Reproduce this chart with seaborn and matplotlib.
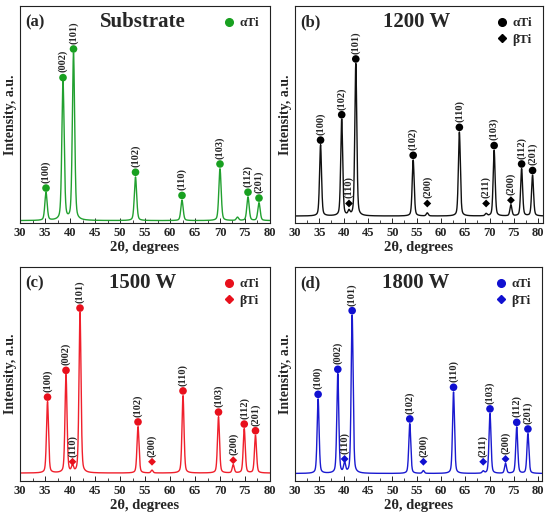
import numpy as np
import pandas as pd
import matplotlib
matplotlib.use("Agg")
import matplotlib.pyplot as plt
import seaborn as sns
from matplotlib.lines import Line2D
from matplotlib.ticker import MultipleLocator

# ---------------- data ----------------
hkl_alpha = ["(100)", "(002)", "(101)", "(102)", "(110)", "(103)", "(112)", "(201)"]
hkl_alpha_b = ["(100)", "(102)", "(101)", "(102)", "(110)", "(103)", "(112)", "(201)"]

# (a) Substrate
a_alpha_pos = [35.2, 38.6, 40.7, 53.1, 62.4, 70.0, 75.6, 77.8]
a_alpha_int = [13.9, 64.8, 78.0, 21.2, 10.5, 25.0, 12.0, 9.3]
a_minor_pos = [73.5]
a_minor_int = [2.6]
a_base = 1.1

# (b) 1200 W
b_alpha_pos = [35.25, 39.6, 42.5, 54.3, 63.8, 70.95, 76.6, 78.85]
b_alpha_int = [36.0, 47.7, 73.4, 29.0, 41.9, 33.5, 25.0, 22.0]
b_beta_hkl = ["(110)", "(200)", "(211)", "(200)"]
b_beta_pos = [41.1, 57.2, 69.3, 74.4]
b_beta_int = [5.2, 4.6, 4.2, 8.3]
b_base = 3.2

# (c) 1500 W
c_alpha_pos = [35.5, 39.2, 42.0, 53.6, 62.6, 69.7, 74.85, 77.1]
c_alpha_int = [37.0, 49.5, 78.6, 25.4, 39.9, 30.0, 24.4, 21.3]
c_beta_hkl = ["(110)", "(200)", "(200)"]
c_beta_pos = [40.5, 56.4, 72.65]
c_beta_int = [6.7, 5.0, 7.5]
c_base = 3.7

# (d) 1800 W
d_alpha_pos = [34.75, 38.8, 41.75, 53.6, 62.6, 70.1, 75.6, 77.9]
d_alpha_int = [38.3, 50.0, 77.4, 26.8, 41.6, 31.5, 25.2, 22.1]
d_beta_hkl = ["(110)", "(200)", "(211)", "(200)"]
d_beta_pos = [40.2, 56.4, 68.7, 73.3]
d_beta_int = [8.1, 4.8, 4.5, 8.1]
d_base = 3.5

panel_letters = ["(a)", "(b)", "(c)", "(d)"]
panel_titles = ["Substrate", "1200 W", "1500 W", "1800 W"]
panel_colors = ["#22a030", "#111111", "#f0202c", "#1a1ad0"]
marker_colors = ["#18a020", "#000000", "#e8101c", "#1010d0"]

# ---------------- style ----------------
sns.set_theme(style="ticks")
plt.rcParams["font.family"] = ["Liberation Serif", "DejaVu Serif"]
plt.rcParams["font.weight"] = "bold"
plt.rcParams["axes.labelweight"] = "bold"

fig = plt.figure(figsize=(5.5, 5.23), dpi=100)
rects = [
    [0.0364, 0.5736, 0.4545, 0.4149],
    [0.5364, 0.5736, 0.4509, 0.4149],
    [0.0364, 0.0803, 0.4545, 0.4092],
    [0.5364, 0.0803, 0.4491, 0.4092],
]
xmaxes = [80, 81, 80, 80.8]

panels = [
    (a_alpha_pos, a_alpha_int, hkl_alpha, a_minor_pos, a_minor_int, [], a_base, 0.55, False),
    (b_alpha_pos, b_alpha_int, hkl_alpha_b, b_beta_pos, b_beta_int, b_beta_hkl, b_base, 0.48, True),
    (c_alpha_pos, c_alpha_int, hkl_alpha, c_beta_pos, c_beta_int, c_beta_hkl, c_base, 0.48, True),
    (d_alpha_pos, d_alpha_int, hkl_alpha, d_beta_pos, d_beta_int, d_beta_hkl, d_base, 0.48, True),
]


def profile(x, pos, top, base, fwhm):
    y = np.full_like(x, base)
    hw = fwhm / 2.0
    for p, t in zip(pos, top):
        amp = t - base
        lor = 1.0 / (1.0 + ((x - p) / hw) ** 2)
        gau = np.exp(-np.log(2) * ((x - p) / hw) ** 2)
        y += amp * (0.35 * lor + 0.65 * gau)
    return y


for i, (apos, aint, ahkl, bpos, bint, bhkl, base, fwhm, has_beta) in enumerate(panels):
    ax = fig.add_axes(rects[i])
    x = np.linspace(30, 81.5, 3000)
    y = profile(x, list(apos) + list(bpos), list(aint) + list(bint), base, fwhm)
    df = pd.DataFrame({"x": x, "y": y})
    sns.lineplot(data=df, x="x", y="y", ax=ax, color=panel_colors[i], lw=1.0)

    off = 2.2
    adf = pd.DataFrame({"x": apos, "y": np.array(aint) + off})
    sns.scatterplot(data=adf, x="x", y="y", ax=ax, marker="o", s=30,
                    color=marker_colors[i], edgecolor="none", zorder=5)
    for xx, yy, lab in zip(adf["x"], adf["y"], ahkl):
        ax.text(xx, yy + 2.4, lab, rotation=90, ha="center", va="bottom",
                fontsize=7.5, fontweight="bold")
    if has_beta:
        bdf = pd.DataFrame({"x": bpos, "y": np.maximum(np.array(bint) + off, 9.0)})
        sns.scatterplot(data=bdf, x="x", y="y", ax=ax, marker="D", s=16,
                        color=marker_colors[i], edgecolor="none", zorder=5)
        for xx, yy, lab in zip(bdf["x"], bdf["y"], bhkl):
            ax.text(xx, yy + 2.4, lab, rotation=90, ha="center", va="bottom",
                    fontsize=7.5, fontweight="bold")

    ax.set_xlim(30, xmaxes[i])
    ax.set_ylim(0, 100)
    ax.set_yticks([])
    ax.xaxis.set_major_locator(MultipleLocator(5))
    ax.xaxis.set_minor_locator(MultipleLocator(2.5))
    ax.tick_params(axis="x", which="major", direction="in", length=3.5, width=0.7,
                   labelsize=9, pad=3)
    ax.tick_params(axis="x", which="minor", direction="in", length=2, width=0.6)
    for lab in ax.get_xticklabels():
        lab.set_fontweight("bold")
    for sp in ax.spines.values():
        sp.set_visible(True)
        sp.set_linewidth(0.8)
        sp.set_color("#222222")
    ax.set_xlabel("2θ, degrees", fontsize=10.5, fontweight="bold", labelpad=1)
    ax.set_ylabel("Intensity, a.u.", fontsize=10, fontweight="bold", labelpad=2)

    ax.text(0.02, 0.925, panel_letters[i], transform=ax.transAxes, ha="left",
            va="center", fontsize=12, fontweight="bold")
    ax.text(0.49, 0.925, panel_titles[i], transform=ax.transAxes, ha="center",
            va="center", fontsize=15, fontweight="bold")

    handles = [Line2D([], [], marker="o", ls="none", color=marker_colors[i], markersize=5.5)]
    labels = ["αTi"]
    if has_beta:
        handles.append(Line2D([], [], marker="D", ls="none", color=marker_colors[i], markersize=4))
        labels.append("βTi")
    ax.legend(handles, labels, loc="upper right", bbox_to_anchor=(1.0, 1.0), frameon=False,
              handlelength=0.8, handletextpad=0.4, labelspacing=0.3,
              borderaxespad=0.45, prop={"weight": "bold", "size": 9.5})

fig.savefig("out.png", dpi=100)
